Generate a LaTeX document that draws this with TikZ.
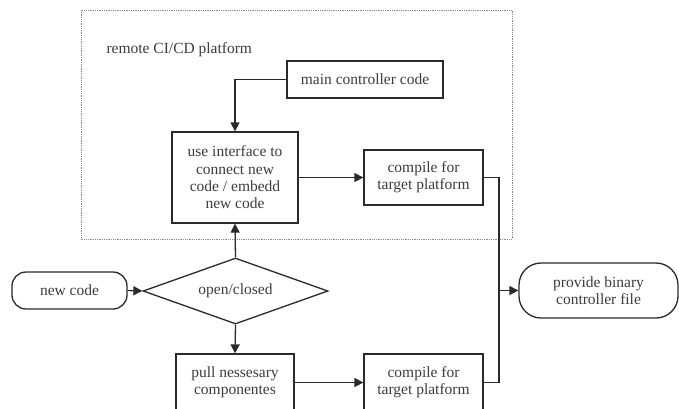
\documentclass[tikz,border=0pt]{standalone}
\usepackage{fontspec}
\setmainfont{Liberation Serif}
\usetikzlibrary{shapes.geometric,arrows.meta}
\definecolor{linec}{HTML}{2A2A2A}
\definecolor{textc}{HTML}{3C3C3C}
\definecolor{framec}{HTML}{8A8A8A}
\tikzset{
  every node/.style={font=\fontsize{15.5}{17.4}\selectfont, text=textc},
  boxnode/.style={draw=linec, line width=1.3pt, rectangle, align=center, inner sep=0pt, fill=white},
  termnode/.style={draw=linec, line width=1.3pt, rectangle, rounded corners=18pt, align=center, inner sep=0pt, fill=white},
  decnode/.style={draw=linec, line width=1.3pt, diamond, aspect=2.8, inner sep=0pt, fill=white},
  conn/.style={draw=linec, line width=1.3pt, -{Triangle[length=9pt,width=9pt]}},
  plainconn/.style={draw=linec, line width=1.3pt},
  framebox/.style={draw=framec, line width=0.9pt, dash pattern=on 1pt off 0.8pt}
}
\begin{document}
\begin{tikzpicture}[x=1pt,y=-1pt]
\useasboundingbox (0,0) rectangle (679,408);
\clip (0,0) rectangle (679,408);
\fill[white] (0,0) rectangle (679,408);
\draw[framebox] (81,10) rectangle (512,239);
\node[anchor=west] (lbl) at (103,50) {remote CI/CD platform};
\node[boxnode, minimum width=156pt, minimum height=37pt] (main) at (365,79.5) {main controller code};
\node[boxnode, minimum width=126pt, minimum height=91pt] (iface) at (235,177.5) {use interface to\\connect new\\code / embedd\\new code};
\node[boxnode, minimum width=119pt, minimum height=55pt] (comp1) at (423.5,177.5) {compile for\\target platform};
\node[termnode, rounded corners=14pt, minimum width=115pt, minimum height=37pt] (new) at (69.5,290.5) {new code};
\node[decnode, minimum width=185pt, minimum height=66pt] (dec) at (235.5,291) {open/closed};
\node[boxnode, minimum width=118pt, minimum height=57pt] (pull) at (235,382.5) {pull nessesary\\componentes};
\node[boxnode, minimum width=119pt, minimum height=57pt] (comp2) at (423.5,382.5) {compile for\\target platform};
\node[termnode, rounded corners=22pt, minimum width=159pt, minimum height=55pt] (prov) at (598.5,290.5) {provide binary\\controller file};
\coordinate (jt) at (499,177.5);
\coordinate (jm) at (499,290.5);
\coordinate (jb) at (499,382.5);
\draw[conn] (main.west) -| (iface.north);
\draw[conn] (iface.east) -- (comp1.west);
\draw[conn] (new.east) -- (dec.west);
\draw[conn] (dec.north) -- (iface.south);
\draw[conn] (dec.south) -- (pull.north);
\draw[conn] (pull.east) -- (comp2.west);
\draw[plainconn] (comp1.east) -- (jt) -- (jb) -- (comp2.east);
\draw[conn] (jm) -- (prov.west);
\end{tikzpicture}
\end{document}
